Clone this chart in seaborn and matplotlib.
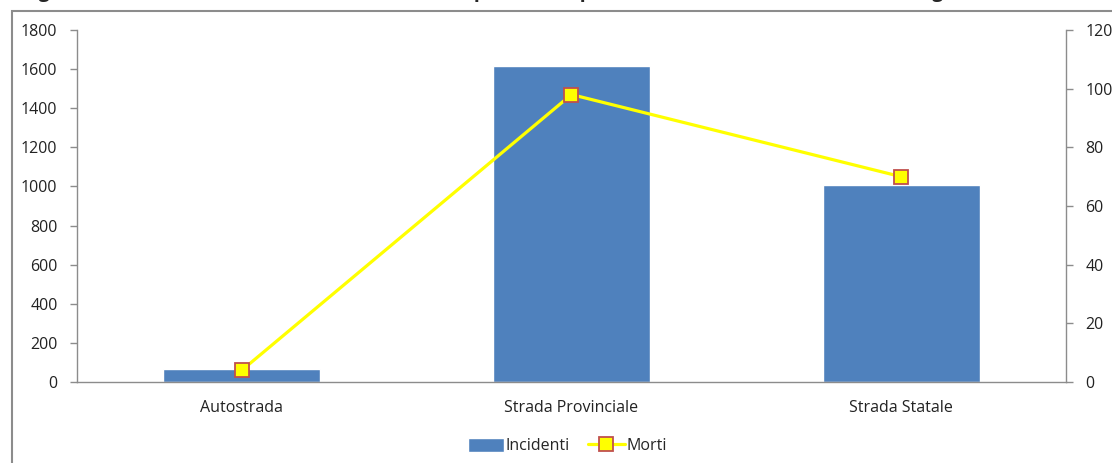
import pandas as pd
import numpy as np
import matplotlib
matplotlib.use("Agg")
import matplotlib.pyplot as plt
import seaborn as sns
from matplotlib.patches import Rectangle

# data
strade = ["Autostrada", "Strada Provinciale", "Strada Statale"]
incidenti = [68, 1615, 1005]
morti = [4, 98, 70]

df = pd.DataFrame({"strada": strade, "Incidenti": incidenti, "Morti": morti})

sns.set_theme(style="white")
plt.rcParams["font.family"] = ["Open Sans", "DejaVu Sans"]

grey = "#8c8c8c"
fs = 11.5

fig = plt.figure(figsize=(11.12, 4.63), dpi=100)
ax = fig.add_axes([0.0692, 0.1749, 0.8894, 0.7603])

# bars - incidenti
sns.barplot(data=df, x="strada", y="Incidenti", color="#4F81BD", saturation=1,
            width=0.476, ax=ax, label="Incidenti")
ax.set_ylim(0, 1800)
ax.set_yticks(np.arange(0, 1801, 200))
ax.set_xlabel("")
ax.set_ylabel("")

# line - morti on secondary axis
ax2 = ax.twinx()
sns.pointplot(data=df, x="strada", y="Morti", color="#FFFF00", markers="s",
              errorbar=None, ax=ax2, linewidth=2.3, markersize=9.5,
              markeredgecolor="#C0504D", markerfacecolor="#FFFF00",
              markeredgewidth=1.3, label="Morti")
ax2.set_ylim(0, 120)
ax2.set_yticks(np.arange(0, 121, 20))
ax2.set_ylabel("")
ax2.set_xlabel("")
ax.set_xlim(-0.5, 2.5)

for a in (ax, ax2):
    if a.get_legend() is not None:
        a.get_legend().remove()
    for s in a.spines.values():
        s.set_visible(False)
    a.grid(False)
ax.spines["left"].set_visible(True)
ax.spines["bottom"].set_visible(True)
ax2.spines["right"].set_visible(True)
for s in (ax.spines["left"], ax.spines["bottom"], ax2.spines["right"]):
    s.set_color(grey)
    s.set_linewidth(1)

ax.tick_params(axis="y", left=True, length=5, width=1, color=grey, pad=9,
               labelsize=fs, labelcolor="#222222")
ax.tick_params(axis="x", bottom=False, pad=7, labelsize=fs, labelcolor="#222222")
ax2.tick_params(axis="y", right=True, length=5, width=1, color=grey, pad=9,
                labelsize=fs, labelcolor="#222222")

# legend at the bottom
h1 = ax.containers[0].patches[0]
h2 = ax2.lines[0]
fig.legend([h1, h2], ["Incidenti", "Morti"], loc="center", bbox_to_anchor=(0.51, 0.036),
           ncol=2, frameon=False, fontsize=fs, handlelength=2.3, handleheight=0.9,
           columnspacing=1.1, handletextpad=0.1)

# outer chart frame (cut by the screenshot)
fig.patches.append(Rectangle((0.0105, -0.05), 1.1, 1.027, transform=fig.transFigure,
                             fill=False, edgecolor=grey, linewidth=1.5, clip_on=False))

# title, mostly cut off at the top
fig.text(0.02, 1.007, "Figura 3 \u2013 Incidenti stradali e decessi avvenuti per strada provinciale, statale e autostrada, Puglia, 2010",
         fontsize=14, fontweight="bold", ha="left", va="baseline", family="Open Sans")

fig.savefig("out.png", dpi=100)
